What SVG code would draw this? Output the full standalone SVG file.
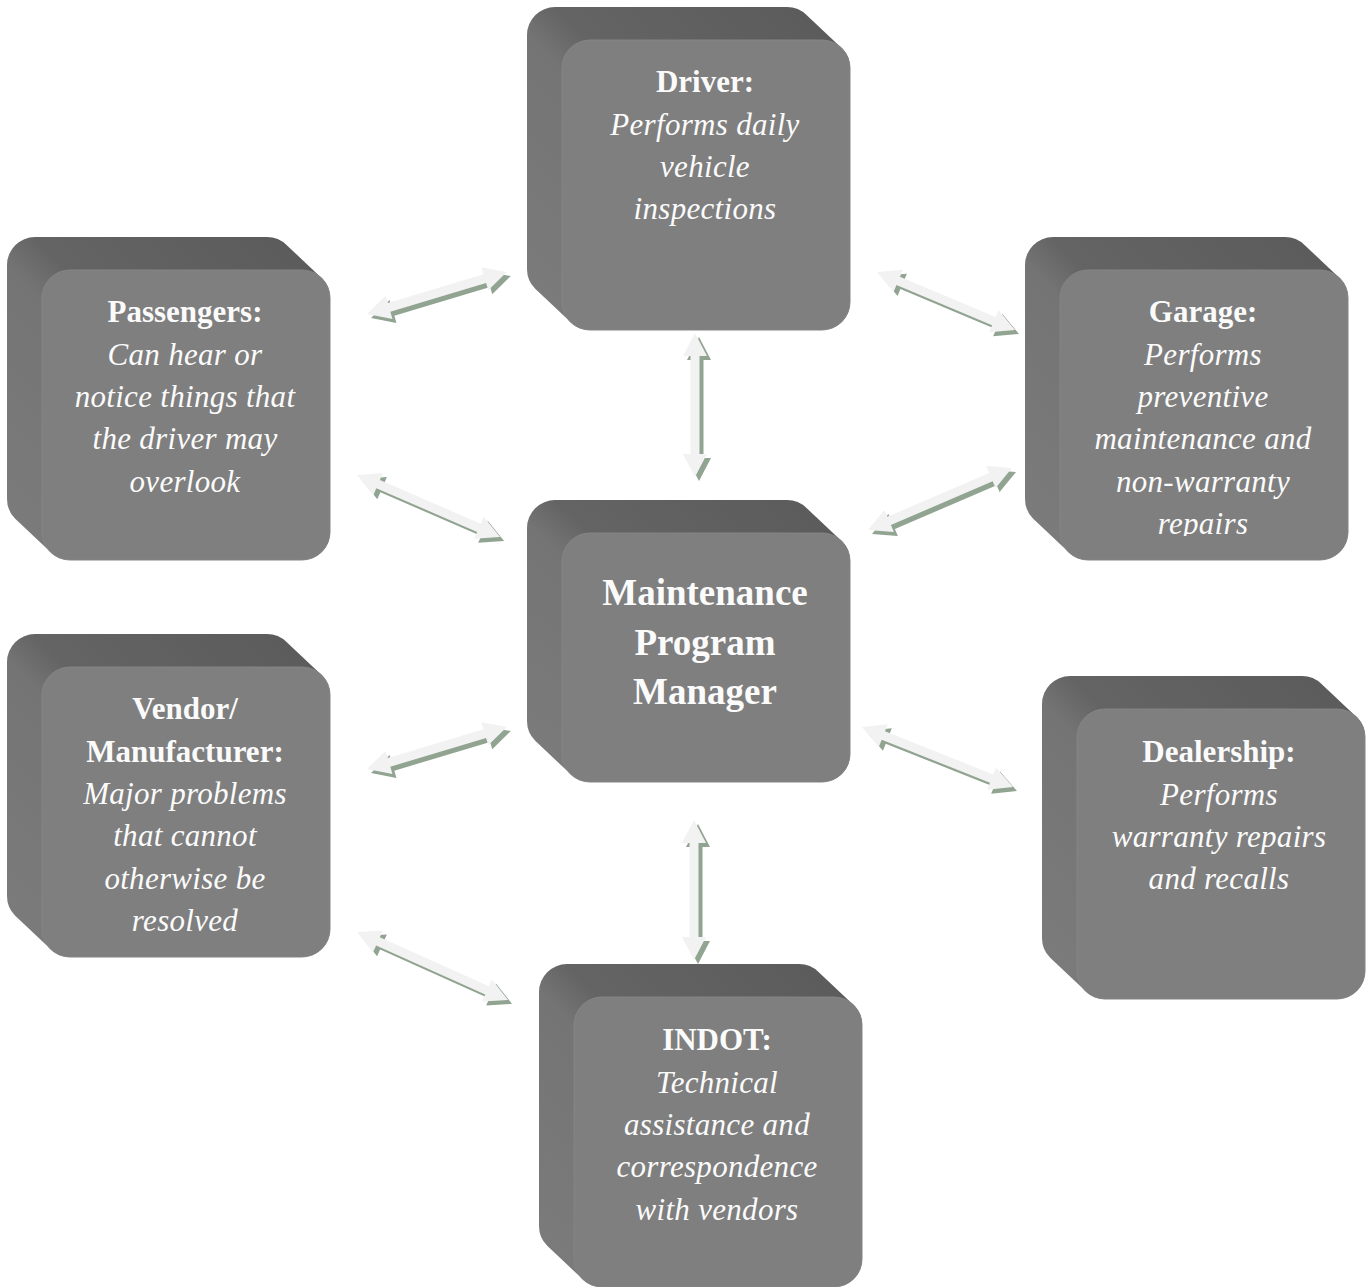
<svg xmlns="http://www.w3.org/2000/svg" xmlns:xlink="http://www.w3.org/1999/xlink" width="1368" height="1287" viewBox="0 0 1368 1287">
<style>
.t{font-family:'Liberation Serif',Tinos,'Times New Roman',Times,'Nimbus Roman',serif;font-size:31px;fill:#fbfbfb;text-anchor:middle}
.b{font-weight:bold}
.i{font-style:italic;letter-spacing:0.3px}
.big{font-weight:bold;font-size:37px}
.face{fill:#7f7f7f;stroke:#858585;stroke-width:1}
.side{fill:url(#sideG)}
.ash{fill:#91a391}
.af{fill:#f2f2f2}
</style>
<defs>
<linearGradient id="sideG" x1="0" y1="1" x2="1" y2="0">
<stop offset="0" stop-color="#7c7c7c"/>
<stop offset="0.46" stop-color="#747474"/>
<stop offset="0.54" stop-color="#646464"/>
<stop offset="1" stop-color="#5a5a5a"/>
</linearGradient>
<g id="cube">
<path class="side" d="M0,28 A28,28 0 0 1 28,0 L260,0 A28,28 0 0 1 279.8,8.2 L314.8,41.2 A28,28 0 0 1 323,61 L323,295 A28,28 0 0 1 295,323 L63,323 A28,28 0 0 1 43.2,314.8 L8.2,281.8 A28,28 0 0 1 0,262 Z"/>
<rect class="face" x="35" y="33" width="288" height="290" rx="28" ry="28"/>
</g>
<g id="cubeC">
<path class="side" d="M0,28 A28,28 0 0 1 28,0 L260,0 A28,28 0 0 1 279.8,8.2 L314.8,41.2 A28,28 0 0 1 323,61 L323,254 A28,28 0 0 1 295,282 L63,282 A28,28 0 0 1 43.2,273.8 L8.2,240.8 A28,28 0 0 1 0,221 Z"/>
<rect class="face" x="35" y="33" width="288" height="249" rx="28" ry="28"/>
</g>
<clipPath id="garClip"><rect x="1025" y="237" width="330" height="299"/></clipPath>
</defs>

<g id="connectors">
<g id="a1">
<polygon class="ash" transform="translate(371,318) rotate(-16.7)" points="0,0 23,-12 23,-4.5 123,-4.5 123,-12 146,0 123,12 123,4.5 23,4.5 23,12"/>
<polygon class="af" transform="translate(367,314) rotate(-16.7)" points="0,0 23,-12 23,-4.5 123,-4.5 123,-12 146,0 123,12 123,4.5 23,4.5 23,12"/>
</g>
<g id="a2">
<polygon class="ash" transform="translate(881,276) rotate(22.8)" points="0,0 23,-12 23,-4.5 126.7,-4.5 126.7,-12 149.7,0 126.7,12 126.7,4.5 23,4.5 23,12"/>
<polygon class="af" transform="translate(877,272) rotate(22.8)" points="0,0 23,-12 23,-4.5 126.7,-4.5 126.7,-12 149.7,0 126.7,12 126.7,4.5 23,4.5 23,12"/>
</g>
<g id="a3">
<polygon class="ash" transform="translate(699,337) rotate(90)" points="0,0 23,-12 23,-4.5 121,-4.5 121,-12 144,0 121,12 121,4.5 23,4.5 23,12"/>
<polygon class="af" transform="translate(695,333) rotate(90)" points="0,0 23,-12 23,-4.5 121,-4.5 121,-12 144,0 121,12 121,4.5 23,4.5 23,12"/>
</g>
<g id="a4">
<polygon class="ash" transform="translate(361,479) rotate(23.4)" points="0,0 23,-12 23,-4.5 132.9,-4.5 132.9,-12 155.9,0 132.9,12 132.9,4.5 23,4.5 23,12"/>
<polygon class="af" transform="translate(357,475) rotate(23.4)" points="0,0 23,-12 23,-4.5 132.9,-4.5 132.9,-12 155.9,0 132.9,12 132.9,4.5 23,4.5 23,12"/>
</g>
<g id="a5">
<polygon class="ash" transform="translate(872,534) rotate(-23.3)" points="0,0 23,-12 23,-4.5 133.8,-4.5 133.8,-12 156.8,0 133.8,12 133.8,4.5 23,4.5 23,12"/>
<polygon class="af" transform="translate(868,530) rotate(-23.3)" points="0,0 23,-12 23,-4.5 133.8,-4.5 133.8,-12 156.8,0 133.8,12 133.8,4.5 23,4.5 23,12"/>
</g>
<g id="a6">
<polygon class="ash" transform="translate(371,773) rotate(-16.7)" points="0,0 23,-12 23,-4.5 123,-4.5 123,-12 146,0 123,12 123,4.5 23,4.5 23,12"/>
<polygon class="af" transform="translate(367,769) rotate(-16.7)" points="0,0 23,-12 23,-4.5 123,-4.5 123,-12 146,0 123,12 123,4.5 23,4.5 23,12"/>
</g>
<g id="a7">
<polygon class="ash" transform="translate(866,731) rotate(21.7)" points="0,0 23,-12 23,-4.5 139.5,-4.5 139.5,-12 162.5,0 139.5,12 139.5,4.5 23,4.5 23,12"/>
<polygon class="af" transform="translate(862,727) rotate(21.7)" points="0,0 23,-12 23,-4.5 139.5,-4.5 139.5,-12 162.5,0 139.5,12 139.5,4.5 23,4.5 23,12"/>
</g>
<g id="a8">
<polygon class="ash" transform="translate(698,824) rotate(90)" points="0,0 23,-12 23,-4.5 117,-4.5 117,-12 140,0 117,12 117,4.5 23,4.5 23,12"/>
<polygon class="af" transform="translate(694,820) rotate(90)" points="0,0 23,-12 23,-4.5 117,-4.5 117,-12 140,0 117,12 117,4.5 23,4.5 23,12"/>
</g>
<g id="a9">
<polygon class="ash" transform="translate(361,936) rotate(24.2)" points="0,0 23,-12 23,-4.5 142.6,-4.5 142.6,-12 165.6,0 142.6,12 142.6,4.5 23,4.5 23,12"/>
<polygon class="af" transform="translate(357,932) rotate(24.2)" points="0,0 23,-12 23,-4.5 142.6,-4.5 142.6,-12 165.6,0 142.6,12 142.6,4.5 23,4.5 23,12"/>
</g>
</g>

<g id="driver">
<use xlink:href="#cube" x="527" y="7"/>
<text class="t b" x="705" y="92">Driver:</text>
<text class="t i" x="705" y="135">Performs daily</text>
<text class="t i" x="705" y="177">vehicle</text>
<text class="t i" x="705" y="219">inspections</text>
</g>

<g id="passengers">
<use xlink:href="#cube" x="7" y="237"/>
<text class="t b" x="185" y="322">Passengers:</text>
<text class="t i" x="185" y="365">Can hear or</text>
<text class="t i" x="185" y="407">notice things that</text>
<text class="t i" x="185" y="449">the driver may</text>
<text class="t i" x="185" y="492">overlook</text>
</g>

<g id="garage">
<use xlink:href="#cube" x="1025" y="237"/>
<g clip-path="url(#garClip)">
<text class="t b" x="1203" y="322">Garage:</text>
<text class="t i" x="1203" y="365">Performs</text>
<text class="t i" x="1203" y="407">preventive</text>
<text class="t i" x="1203" y="449">maintenance and</text>
<text class="t i" x="1203" y="492">non-warranty</text>
<text class="t i" x="1203" y="534">repairs</text>
</g>
</g>

<g id="manager">
<use xlink:href="#cubeC" x="527" y="500"/>
<text class="t big" x="705" y="605">Maintenance</text>
<text class="t big" x="705" y="655">Program</text>
<text class="t big" x="705" y="704">Manager</text>
</g>

<g id="vendor">
<use xlink:href="#cube" x="7" y="634"/>
<text class="t b" x="185" y="719">Vendor/</text>
<text class="t b" x="185" y="762">Manufacturer:</text>
<text class="t i" x="185" y="804">Major problems</text>
<text class="t i" x="185" y="846">that cannot</text>
<text class="t i" x="185" y="889">otherwise be</text>
<text class="t i" x="185" y="931">resolved</text>
</g>

<g id="dealership">
<use xlink:href="#cube" x="1042" y="676"/>
<text class="t b" x="1219" y="762">Dealership:</text>
<text class="t i" x="1219" y="805">Performs</text>
<text class="t i" x="1219" y="847">warranty repairs</text>
<text class="t i" x="1219" y="889">and recalls</text>
</g>

<g id="indot">
<use xlink:href="#cube" x="539" y="964"/>
<text class="t b" x="717" y="1050">INDOT:</text>
<text class="t i" x="717" y="1093">Technical</text>
<text class="t i" x="717" y="1135">assistance and</text>
<text class="t i" x="717" y="1177">correspondence</text>
<text class="t i" x="717" y="1220">with vendors</text>
</g>
</svg>
